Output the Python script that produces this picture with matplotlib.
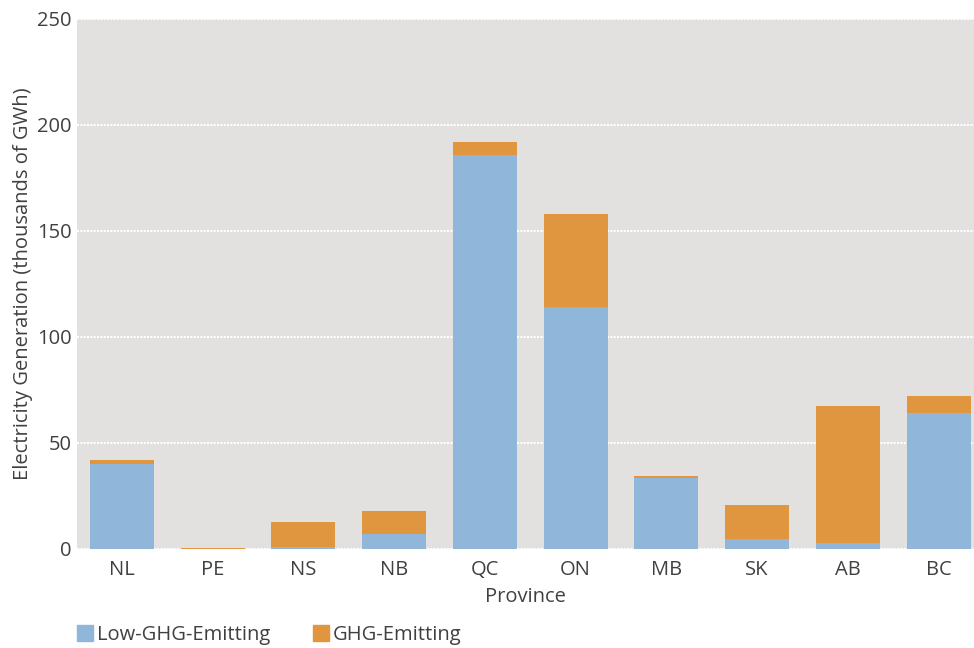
import matplotlib
matplotlib.use("Agg")
import matplotlib.pyplot as plt
from matplotlib.patches import Patch

provinces = ["NL", "PE", "NS", "NB", "QC", "ON", "MB", "SK", "AB", "BC"]
low_ghg = [40.1, 0.0, 1.0, 7.0, 185.8, 114.2, 33.6, 4.7, 2.8, 64.2]
ghg = [1.9, 0.6, 11.7, 11.0, 6.2, 43.8, 0.8, 16.1, 64.7, 8.0]
y_ticks = [0, 50, 100, 150, 200, 250]

blue = "#90B6DA"
orange = "#E0953F"
text_col = "#404040"
fs = 14.5

plt.rcParams['font.family'] = ['Open Sans', 'DejaVu Sans']

fig = plt.figure(figsize=(9.74, 6.48), dpi=100)
ax = fig.add_axes([77 / 974, 99 / 648, 897 / 974, 530 / 648])
ax.set_facecolor("#E2E1E0")

x = list(range(len(provinces)))
ax.bar(x, low_ghg, width=0.705, color=blue, zorder=3)
ax.bar(x, ghg, width=0.705, bottom=low_ghg, color=orange, zorder=3)

ax.set_ylim(0, 250)
ax.set_xlim(-0.496, 9.39)
ax.set_yticks(y_ticks)
ax.set_xticks(x)
ax.set_xticklabels(provinces)
ax.yaxis.grid(True, color="white", linewidth=1.5, linestyle=(0, (1, 0.6)), zorder=1)
for s in ax.spines.values():
    s.set_visible(False)
ax.tick_params(length=0, labelsize=fs, colors=text_col)
ax.tick_params(axis='x', pad=8)
ax.tick_params(axis='y', pad=4)
ax.set_ylabel("Electricity Generation (thousands of GWh)", fontsize=fs, color=text_col, labelpad=3)
ax.set_xlabel("Province", fontsize=fs, color=text_col, labelpad=5)

handles = [Patch(color=blue, label="Low-GHG-Emitting"), Patch(color=orange, label="GHG-Emitting")]
fig.legend(handles=handles, loc="center left", bbox_to_anchor=(77 / 974, 1 - 635 / 648), ncol=2,
           frameon=False, fontsize=fs, labelcolor=text_col, handlelength=0.8,
           handleheight=0.8, handletextpad=0.2, columnspacing=2.1,
           borderpad=0, borderaxespad=0)

fig.savefig("out.png", dpi=100)
